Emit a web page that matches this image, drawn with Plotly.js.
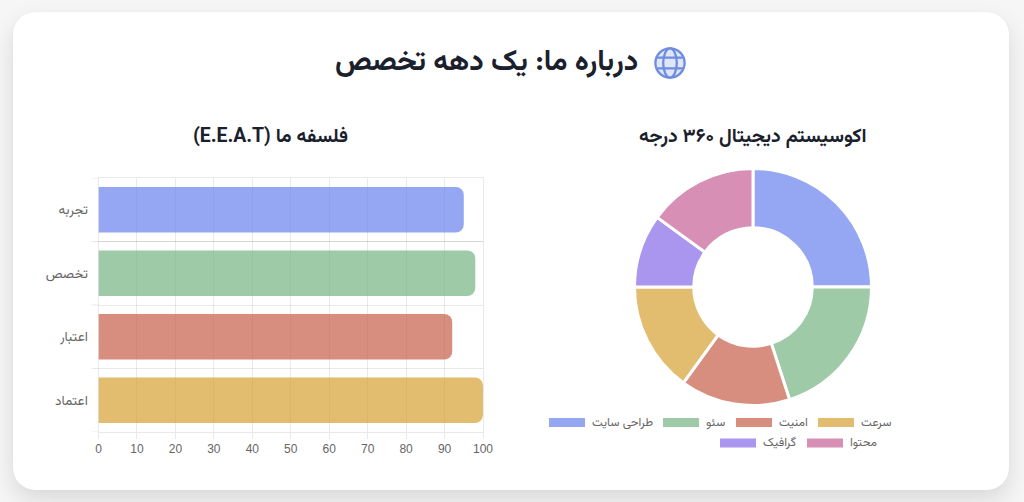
<!DOCTYPE html>
<html lang="fa"><head><meta charset="utf-8">
<script src="https://cdn.plot.ly/plotly-3.0.1.min.js"></script>
<style>
html,body{margin:0;padding:0;width:1024px;height:502px;overflow:hidden;background:#f6f6f7}
#card{position:absolute;left:13px;top:12px;width:996px;height:478px;background:#fff;border-radius:22px;box-shadow:0 10px 24px rgba(0,0,0,.12),0 0 1px rgba(0,0,0,.08)}
#globe{position:absolute;left:654px;top:47px;width:32px;height:32px}
#chart{position:absolute;left:0;top:0;width:1024px;height:502px}
</style></head><body>
<div id="card"></div>
<svg id="globe" viewBox="0 0 32 32" fill="none" stroke="#6e8ce0" stroke-width="2.3">
<circle cx="16" cy="16" r="14.6" fill="#dfe6fa"/>
<ellipse cx="16" cy="16" rx="6.8" ry="14.6"/>
<path d="M3.2 10.6H28.8M3.2 21.4H28.8"/>
</svg>
<div id="chart"></div>
<script>
const mainTitle = "درباره ما: یک دهه تخصص";
const barTitle = "\u202Bفلسفه ما (E.E.A.T)\u202C";
const pieTitle = "اکوسیستم دیجیتال ۳۶۰ درجه";

const barCategories = ["تجربه", "تخصص", "اعتبار", "اعتماد"];
const barValues = [95, 98, 92, 100];
const barColors = ["rgba(104,128,236,.7)", "rgba(118,180,131,.7)", "rgba(200,94,73,.7)", "rgba(214,160,50,.7)"];

const pieLabels = ["طراحی سایت", "سئو", "امنیت", "سرعت", "گرافیک", "محتوا"];
const pieValues = [25, 20, 15, 15, 10, 15];
const pieColors = ["rgba(104,128,236,.7)", "rgba(118,180,131,.7)", "rgba(200,94,73,.7)", "rgba(214,160,50,.7)", "rgba(134,105,232,.7)", "rgba(198,95,150,.7)"];

const W = 1024, H = 502;
const px = v => v / W, py = v => 1 - v / H;
const FA = "Vazirmatn, 'Noto Sans', 'DejaVu Sans', sans-serif";
const grid = "rgba(0,0,0,.085)";

const bar = {
  type: "bar", orientation: "h", x: barValues, y: barCategories,
  marker: {color: barColors, line: {width: 0}}, width: 0.72, hoverinfo: "x+y"
};
const pie = {
  type: "pie", labels: pieLabels, values: pieValues, hole: 0.5, sort: false,
  direction: "clockwise", rotation: 0, textinfo: "none", showlegend: false, automargin: false,
  marker: {colors: pieColors, line: {color: "#fff", width: 3}},
  domain: {x: [px(634.5), px(871.5)], y: [py(405.5), py(168.5)]}
};

// legend built from the pie's own labels and colours
const legendSlots = [[549, 422.5], [663, 422.5], [736, 422.5], [818, 422.5], [720, 443], [807, 443]];
const shapes = [], annotations = [];
pieLabels.forEach((label, i) => {
  const [x, y] = legendSlots[i];
  shapes.push({type: "rect", xref: "paper", yref: "paper", x0: px(x), x1: px(x + 36), y0: py(y + 4.5), y1: py(y - 4.5),
    fillcolor: pieColors[i], line: {width: 0}});
  annotations.push({xref: "paper", yref: "paper", x: px(x + 41), y: py(y), xanchor: "left", yanchor: "middle",
    text: label, showarrow: false, font: {family: FA, size: 12, color: "#666"}});
});
// tick stubs at the category boundaries, placed through the y axis
for (let k = 0; k <= barCategories.length; k++) {
  shapes.push({type: "line", xref: "paper", yref: "y", x0: px(91.5), x1: px(98.5), y0: k - 0.5, y1: k - 0.5,
    line: {color: grid, width: 1}});
}
const heading = (text, x, y, size) => annotations.push({xref: "paper", yref: "paper", x: px(x), y: py(y), xanchor: "center", yanchor: "middle",
  text: "<b>" + text + "</b>", showarrow: false, font: {family: FA, size, color: "#1a202c"}});
heading(mainTitle, 486, 63, 29);
heading(barTitle, 270, 137, 19.4);
heading(pieTitle, 753, 137, 19.4);

const layout = {
  width: W, height: H, margin: {l: 0, r: 0, t: 0, b: 0}, autosize: false,
  paper_bgcolor: "rgba(0,0,0,0)", plot_bgcolor: "rgba(0,0,0,0)", showlegend: false,
  barcornerradius: 8,
  xaxis: {domain: [px(98.5), px(483)], anchor: "y", range: [0, 100], dtick: 10, tick0: 0, showgrid: true, gridcolor: grid, gridwidth: 1,
    zeroline: false, showline: true, mirror: true, linecolor: grid, linewidth: 1, ticks: "outside", ticklen: 6, tickcolor: grid, fixedrange: true,
    tickfont: {family: "'Liberation Sans', Arial, sans-serif", size: 12, color: "#666"}},
  yaxis: {domain: [py(432), py(178)], anchor: "x", type: "category", autorange: false, range: [3.5, -0.5], categoryorder: "array", categoryarray: barCategories,
    tickson: "boundaries", showgrid: true, gridcolor: grid, gridwidth: 1, zeroline: false, showline: true, mirror: true, linecolor: grid, linewidth: 1,
    ticks: "", ticklabelstandoff: 7, fixedrange: true,
    tickfont: {family: FA, size: 13.5, color: "#666"}},
  shapes, annotations
};
Plotly.newPlot("chart", [bar, pie], layout, {displayModeBar: false, staticPlot: true});
</script>
</body></html>
